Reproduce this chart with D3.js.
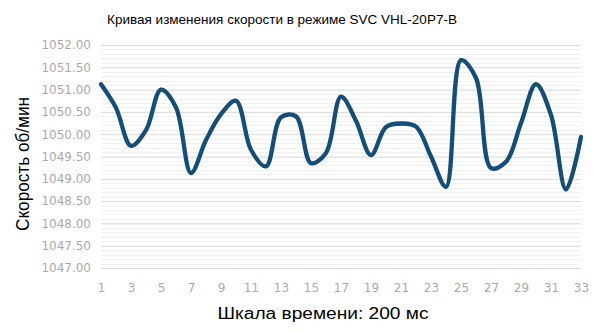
<!DOCTYPE html>
<html>
<head>
<meta charset="utf-8">
<script src="https://cdn.jsdelivr.net/npm/d3@7"></script>
<style>
  body { margin: 0; background: #fff; }
  #chart { width: 600px; height: 332px; }
  .tick text { fill: #aaaaaa; font-family: "DejaVu Sans", sans-serif; font-size: 12px; }
</style>
</head>
<body>
<div id="chart"></div>
<script>
//Datos
let puntos = d3.range(1, 34);
let velocidad = [1051.12, 1050.59, 1049.74, 1050.09, 1051.0, 1050.6, 1049.13, 1049.87, 1050.45, 1050.75,
                 1049.65, 1049.28, 1050.38, 1050.4, 1049.35, 1049.58, 1050.84, 1050.3, 1049.53, 1050.16,
                 1050.24, 1050.17, 1049.5, 1048.82, 1051.66, 1051.26, 1049.24, 1049.38, 1050.25, 1051.12,
                 1050.43, 1048.76, 1049.94];
let yTicks = [1047, 1047.5, 1048, 1048.5, 1049, 1049.5, 1050, 1050.5, 1051, 1051.5, 1052];
let xTicks = d3.range(1, 34, 2);

let data = puntos.map(function(d, i) { return {t: d, v: velocidad[i]}; });

let margin = {top: 45, right: 19, bottom: 64, left: 101};
let width = 600 - margin.left - margin.right,
    height = 332 - margin.top - margin.bottom;

let svg = d3.select('#chart').append('svg')
    .attr('width', 600)
    .attr('height', 332);

let chart = svg.append('g')
    .attr('transform', 'translate(' + margin.left + ',' + margin.top + ')');

//Escalas
let x = d3.scaleLinear().domain([1, 33]).range([0, width]);
let y = d3.scaleLinear().domain([1047, 1052]).range([height, 0]);

//Rejilla menor
chart.append('g')
    .selectAll('line')
    .data(d3.range(0, 51).map(function(d) { return 1047 + d * 0.1; }))
    .enter()
    .append('line')
    .attr('x1', 0).attr('x2', width)
    .attr('y1', function(d) { return Math.round(y(d)) + 0.5; })
    .attr('y2', function(d) { return Math.round(y(d)) + 0.5; })
    .style('stroke', '#f1f1f1');

//Eje Y con rejilla principal
chart.append('g')
    .call(d3.axisLeft(y).tickValues(yTicks).tickFormat(d3.format('.2f')).tickSize(-width).tickPadding(10))
    .call(function(g) { g.select('.domain').remove(); })
    .call(function(g) { g.selectAll('.tick line').style('stroke', '#dcdcdc'); });

//Eje X
chart.append('g')
    .attr('transform', 'translate(0,' + height + ')')
    .call(d3.axisBottom(x).tickValues(xTicks).tickSize(0).tickPadding(15))
    .call(function(g) { g.select('.domain').remove(); });

//Línea
let line = d3.line()
    .x(function(d) { return x(d.t); })
    .y(function(d) { return y(d.v); })
    .curve(d3.curveCatmullRom.alpha(0.5));

chart.append('path')
    .datum(data)
    .attr('d', line)
    .style('fill', 'none')
    .style('stroke', '#144d77')
    .style('stroke-width', 4.3)
    .style('stroke-linejoin', 'round')
    .style('stroke-linecap', 'round');

//Títulos
svg.append('text')
    .attr('x', 282).attr('y', 24)
    .attr('text-anchor', 'middle')
    .style('font-family', '"Liberation Sans", Arial, sans-serif')
    .style('font-size', '13.5px')
    .text('Кривая изменения скорости в режиме SVC VHL-20P7-B');

svg.append('text')
    .attr('transform', 'translate(29,164) rotate(-90)')
    .attr('text-anchor', 'middle')
    .attr('textLength', 134)
    .attr('lengthAdjust', 'spacingAndGlyphs')
    .style('font-family', '"Liberation Sans", Arial, sans-serif')
    .style('font-size', '18px')
    .text('Скорость об/мин');

svg.append('text')
    .attr('x', 323).attr('y', 319)
    .attr('text-anchor', 'middle')
    .attr('textLength', 211)
    .attr('lengthAdjust', 'spacingAndGlyphs')
    .style('font-family', '"Liberation Sans", Arial, sans-serif')
    .style('font-size', '16px')
    .text('Шкала времени: 200 мс');
</script>
</body>
</html>
